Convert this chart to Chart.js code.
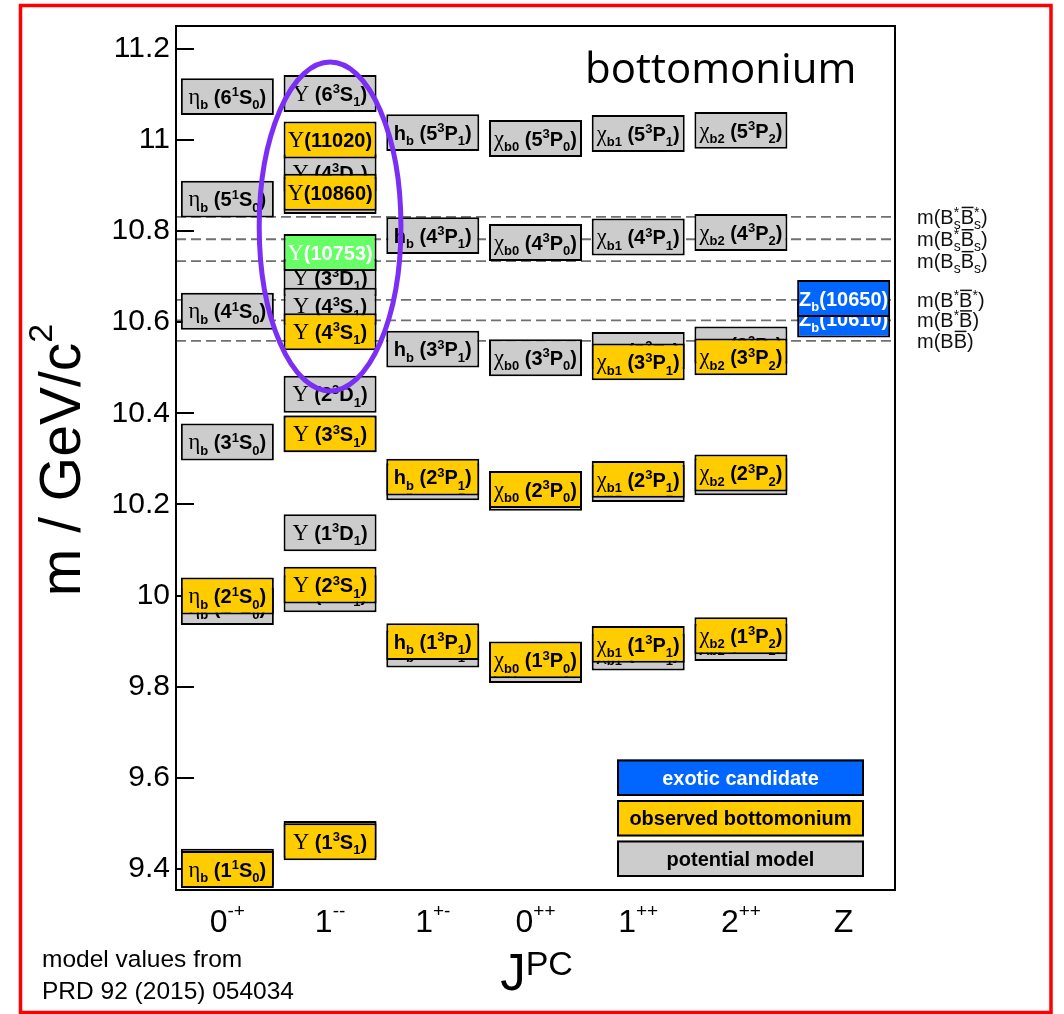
<!DOCTYPE html>
<html>
<head>
<meta charset="utf-8">
<title>Bottomonium spectrum</title>
<script src="https://cdn.jsdelivr.net/npm/chart.js@4/dist/chart.umd.min.js"></script>
<style>
  html, body { margin: 0; padding: 0; background: #ffffff; }
  #wrap { width: 1064px; height: 1014px; }
  canvas { display: block; }
</style>
</head>
<body>
<div id="wrap"><canvas id="spectrum" width="1064" height="1014"></canvas></div>
<script>
// ---------------------------------------------------------------------------
// Axes
// ---------------------------------------------------------------------------
const categories = ['0-+', '1--', '1+-', '0++', '1++', '2++', 'Z'];
const categoryLabels = ['0^{-+}', '1^{--}', '1^{+-}', '0^{++}', '1^{++}', '2^{++}', 'Z'];
const yTicks = [9.4, 9.6, 9.8, 10.0, 10.2, 10.4, 10.6, 10.8, 11.0, 11.2];
const yRange = [9.354, 11.25];

// ---------------------------------------------------------------------------
// Potential-model levels (GeV), PRD 92 (2015) 054034.
// Listed top-down inside each column so that lower levels are painted last.
// ---------------------------------------------------------------------------
const modelColumn = [
  '0-+', '0-+', '0-+', '0-+', '0-+', '0-+',
  '1--', '1--', '1--', '1--', '1--', '1--', '1--', '1--', '1--', '1--',
  '1+-', '1+-', '1+-', '1+-', '1+-',
  '0++', '0++', '0++', '0++', '0++',
  '1++', '1++', '1++', '1++', '1++',
  '2++', '2++', '2++', '2++', '2++'
];
const modelMass = [
  11.095, 10.870, 10.624, 10.337, 9.976, 9.404,
  11.102, 10.928, 10.878, 10.698, 10.635, 10.442, 10.355, 10.138, 10.004, 9.465,
  11.016, 10.790, 10.541, 10.250, 9.883,
  11.003, 10.775, 10.522, 10.227, 9.849,
  11.014, 10.787, 10.538, 10.246, 9.876,
  11.021, 10.797, 10.550, 10.261, 9.897
];
const modelName = [
  'η_b (6^1S_0)', 'η_b (5^1S_0)', 'η_b (4^1S_0)', 'η_b (3^1S_0)', 'η_b (2^1S_0)', 'η_b (1^1S_0)',
  'Υ (6^3S_1)', 'Υ (4^3D_1)', 'Υ (5^3S_1)', 'Υ (3^3D_1)', 'Υ (4^3S_1)',
  'Υ (2^3D_1)', 'Υ (3^3S_1)', 'Υ (1^3D_1)', 'Υ (2^3S_1)', 'Υ (1^3S_1)',
  'h_b (5^3P_1)', 'h_b (4^3P_1)', 'h_b (3^3P_1)', 'h_b (2^3P_1)', 'h_b (1^3P_1)',
  'χ_{b0} (5^3P_0)', 'χ_{b0} (4^3P_0)', 'χ_{b0} (3^3P_0)', 'χ_{b0} (2^3P_0)', 'χ_{b0} (1^3P_0)',
  'χ_{b1} (5^3P_1)', 'χ_{b1} (4^3P_1)', 'χ_{b1} (3^3P_1)', 'χ_{b1} (2^3P_1)', 'χ_{b1} (1^3P_1)',
  'χ_{b2} (5^3P_2)', 'χ_{b2} (4^3P_2)', 'χ_{b2} (3^3P_2)', 'χ_{b2} (2^3P_2)', 'χ_{b2} (1^3P_2)'
];

// ---------------------------------------------------------------------------
// Observed bottomonium (measured masses, GeV; the numbers inside the
// Υ(...) names are the conventional historical names)
// ---------------------------------------------------------------------------
const observedColumn = [
  '0-+', '0-+',
  '1--', '1--', '1--', '1--', '1--', '1--',
  '1+-', '1+-',
  '0++', '0++',
  '1++', '1++', '1++',
  '2++', '2++', '2++'
];
const observedMass = [
  9.999, 9.399,
  11.000, 10.885, 10.579, 10.355, 10.023, 9.460,
  10.260, 9.899,
  10.233, 9.859,
  10.513, 10.255, 9.893,
  10.524, 10.269, 9.912
];
const observedName = [
  'η_b (2^1S_0)', 'η_b (1^1S_0)',
  'Υ(11020)', 'Υ(10860)', 'Υ (4^3S_1)', 'Υ (3^3S_1)', 'Υ (2^3S_1)', 'Υ (1^3S_1)',
  'h_b (2^3P_1)', 'h_b (1^3P_1)',
  'χ_{b0} (2^3P_0)', 'χ_{b0} (1^3P_0)',
  'χ_{b1} (3^3P_1)', 'χ_{b1} (2^3P_1)', 'χ_{b1} (1^3P_1)',
  'χ_{b2} (3^3P_2)', 'χ_{b2} (2^3P_2)', 'χ_{b2} (1^3P_2)'
];

// Newly observed vector state
const newColumn = ['1--'];
const newMass = [10.753];
const newName = ['Υ(10753)'];

// Exotic candidates
const exoticColumn = ['Z', 'Z'];
const exoticMass = [10.607, 10.652];
const exoticName = ['Z_b(10610)', 'Z_b(10650)'];

// Open-bottom thresholds (GeV)
const thresholdMass = [10.831, 10.782, 10.734, 10.649, 10.604, 10.559];
const thresholdName = ['m(B_s^*~B_s^*)', 'm(B_s^*~B_s)', 'm(B_s~B_s)', 'm(B^*~B^*)', 'm(B^*~B)', 'm(B~B)'];

// Highlighted group of 1-- states: centre (column, GeV) and half extents
const highlight = { column: 1, mass: 10.810, halfColumns: 0.69, halfMass: 0.361 };

// Legend entries
const legendNames = ['exotic candidate', 'observed bottomonium', 'potential model'];

// ---------------------------------------------------------------------------
// Styling
// ---------------------------------------------------------------------------
const SANS = '"Liberation Sans", Arial, Helvetica, sans-serif';
const SERIF = '"Liberation Serif", "Times New Roman", serif';
const LEVEL_HALF = 0.0405;           // half height of a level box, GeV
const COLORS = {
  model: '#cccccc', observed: '#ffcc00', fresh: '#66ff66', exotic: '#0066ff',
  threshold: '#707070', highlight: '#7b2ff5', frame: '#ff0000'
};
const boxFont = { base: `700 20px ${SANS}`, greek: `400 22.5px ${SERIF}`, script: `700 13px ${SANS}`, rise: 7.5, drop: 5.5 };
const thrFont = { base: `400 20px ${SANS}`, greek: `400 20px ${SERIF}`, script: `400 14px ${SANS}`, rise: 7, drop: 5, over: 16.5, overWidth: 1.5 };
const xFont = { base: `400 32px ${SANS}`, greek: `400 32px ${SERIF}`, script: `400 19px ${SANS}`, rise: 15, drop: 0 };
const yTitleFont = { base: `400 57px ${SANS}`, greek: `400 57px ${SERIF}`, script: `400 34px ${SANS}`, rise: 28, drop: 0 };
const xTitleFont = { base: `400 51px ${SANS}`, greek: `400 51px ${SERIF}`, script: `400 34px ${SANS}`, rise: 15, drop: 0 };

// ---------------------------------------------------------------------------
// Small rich-text renderer: _x / _{..} subscript, ^x / ^{..} superscript,
// ~X overlined character; Greek letters use the serif face.
// ---------------------------------------------------------------------------
function parseRich(str) {
  const toks = [];
  const pushBase = (ch, over) => {
    const greek = /[\u0370-\u03ff]/.test(ch);
    const last = toks[toks.length - 1];
    if (!over && last && last.kind === 'base' && !last.over && last.greek === greek) last.text += ch;
    else toks.push({ text: ch, kind: 'base', over: !!over, greek });
  };
  let i = 0;
  while (i < str.length) {
    const c = str[i];
    if (c === '^' || c === '_') {
      const kind = c === '^' ? 'sup' : 'sub';
      let t;
      if (str[i + 1] === '{') { const j = str.indexOf('}', i + 2); t = str.slice(i + 2, j); i = j + 1; }
      else { t = str[i + 1]; i += 2; }
      toks.push({ text: t, kind, over: false, greek: false });
    } else if (c === '~') { pushBase(str[i + 1], true); i += 2; }
    else { pushBase(c, false); i += 1; }
  }
  return toks;
}

function drawRich(ctx, str, x, baseline, f, color, align) {
  const toks = parseRich(str);
  let adv = 0, prevScript = null;
  const items = [];
  for (const t of toks) {
    const font = t.kind === 'base' ? (t.greek ? f.greek : f.base) : f.script;
    ctx.font = font;
    const w = ctx.measureText(t.text).width;
    const dy = t.kind === 'sup' ? -f.rise : (t.kind === 'sub' ? f.drop : 0);
    let x0 = adv;
    if (t.kind !== 'base' && prevScript && prevScript.kind !== t.kind) {
      x0 = prevScript.x;
      adv = Math.max(adv, x0 + w);
      prevScript = null;
    } else {
      adv = x0 + w;
      prevScript = t.kind !== 'base' ? { kind: t.kind, x: x0 } : null;
    }
    items.push({ t, font, w, x0, dy });
  }
  const start = align === 'left' ? x : x - adv / 2;
  ctx.save();
  ctx.fillStyle = color;
  ctx.strokeStyle = color;
  ctx.textAlign = 'left';
  ctx.textBaseline = 'alphabetic';
  for (const it of items) {
    ctx.font = it.font;
    ctx.fillText(it.t.text, start + it.x0, baseline + it.dy);
    if (it.t.over) {
      ctx.lineWidth = f.overWidth || 1.5;
      ctx.beginPath();
      ctx.moveTo(start + it.x0 + 1, baseline - f.over);
      ctx.lineTo(start + it.x0 + it.w - 0.5, baseline - f.over);
      ctx.stroke();
    }
  }
  ctx.restore();
  return adv;
}

// ---------------------------------------------------------------------------
// Level controller: a floating bar per level, each followed by its label,
// so that overlapping levels also cover the labels underneath.
// ---------------------------------------------------------------------------
class LevelController extends Chart.BarController {
  draw() {
    const ctx = this.chart.ctx;
    const meta = this._cachedMeta;
    const ds = this.getDataset();
    meta.data.forEach((bar, i) => {
      if (bar.hidden) return;
      bar.draw(ctx);
      const p = bar.getProps(['x', 'y', 'base'], true);
      drawRich(ctx, ds.data[i].name, p.x, (p.y + p.base) / 2 + 7.2, boxFont, ds.labelColor, 'center');
    });
  }
}
LevelController.id = 'level';
LevelController.defaults = Chart.BarController.defaults;
LevelController.overrides = Chart.BarController.overrides;
Chart.register(LevelController);

function levels(cols, masses, names) {
  return masses.map((m, i) => ({ x: cols[i], y: [m - LEVEL_HALF, m + LEVEL_HALF], name: names[i] }));
}

function levelDataset(label, cols, masses, names, fill, textColor, order) {
  return {
    type: 'level',
    label,
    data: levels(cols, masses, names),
    backgroundColor: fill,
    borderColor: '#000000',
    borderWidth: 2,
    borderSkipped: false,
    inflateAmount: 0,
    grouped: false,
    barThickness: 93,
    labelColor: textColor,
    order
  };
}

// ---------------------------------------------------------------------------
// Decorations drawn through the chart's scales
// ---------------------------------------------------------------------------
const spectrumDecor = {
  id: 'spectrumDecor',
  beforeDatasetsDraw(chart) {
    const { ctx, chartArea: a, scales: { y } } = chart;
    ctx.save();
    // thresholds
    ctx.strokeStyle = COLORS.threshold;
    ctx.lineWidth = 1.8;
    ctx.setLineDash([10, 5]);
    thresholdMass.forEach(m => {
      const py = y.getPixelForValue(m);
      ctx.beginPath();
      ctx.moveTo(a.left, py);
      ctx.lineTo(a.right, py);
      ctx.stroke();
    });
    ctx.setLineDash([]);
    // inward ticks on the mass axis
    ctx.strokeStyle = '#000000';
    ctx.lineWidth = 2;
    yTicks.forEach(v => {
      const py = Math.round(y.getPixelForValue(v));
      ctx.beginPath();
      ctx.moveTo(a.left, py);
      ctx.lineTo(a.left + 18, py);
      ctx.stroke();
    });
    // frame
    ctx.strokeRect(a.left, a.top, a.right - a.left, a.bottom - a.top);
    ctx.restore();
  },
  afterDatasetsDraw(chart) {
    const { ctx, chartArea: a, scales: { x, y } } = chart;
    ctx.save();
    // highlight ellipse
    const cx = x.getPixelForValue(highlight.column);
    const colW = x.getPixelForValue(1) - x.getPixelForValue(0);
    const cy = y.getPixelForValue(highlight.mass);
    const ry = Math.abs(y.getPixelForValue(highlight.mass + highlight.halfMass) - cy);
    ctx.strokeStyle = COLORS.highlight;
    ctx.lineWidth = 5;
    ctx.beginPath();
    ctx.ellipse(cx, cy, highlight.halfColumns * colW, ry, 0, 0, Math.PI * 2);
    ctx.stroke();

    // legend
    const fills = [COLORS.exotic, COLORS.observed, COLORS.model];
    const inks = ['#ffffff', '#000000', '#000000'];
    const w = 247, h = 36.5, gap = 4;
    const right = a.right - 31, bottom = a.bottom - 13;
    const left = right - w;
    legendNames.forEach((name, i) => {
      const top = bottom - (legendNames.length - i) * h - (legendNames.length - 1 - i) * gap;
      ctx.fillStyle = fills[i];
      ctx.fillRect(left, top, w, h);
      ctx.strokeStyle = '#000000';
      ctx.lineWidth = 2;
      ctx.strokeRect(left + 1, top + 1, w - 2, h - 2);
      ctx.fillStyle = inks[i];
      ctx.font = `700 20px ${SANS}`;
      ctx.textAlign = 'center';
      ctx.textBaseline = 'alphabetic';
      ctx.fillText(name, left + w / 2, top + h / 2 + 7);
    });
    ctx.restore();
  },
  afterDraw(chart) {
    const { ctx, chartArea: a, scales: { x, y } } = chart;
    ctx.save();
    // threshold names
    thresholdMass.forEach((m, i) => {
      drawRich(ctx, thresholdName[i], a.right + 22, y.getPixelForValue(m) + 7, thrFont, '#111111', 'left');
    });
    // J^PC category labels
    categoryLabels.forEach((lab, i) => {
      drawRich(ctx, lab, x.getPixelForValue(i), a.bottom + 42, xFont, '#000000', 'center');
    });
    // axis titles
    drawRich(ctx, 'J^{PC}', (a.left + a.right) / 2 + 1, a.bottom + 100, xTitleFont, '#000000', 'center');
    ctx.save();
    ctx.translate(80, (a.top + a.bottom) / 2 + 2);
    ctx.rotate(-Math.PI / 2);
    drawRich(ctx, 'm / GeV/c^2', 0, 0, yTitleFont, '#000000', 'center');
    ctx.restore();
    // title
    ctx.fillStyle = '#000000';
    ctx.font = `400 42px "Open Sans", ${SANS}`;
    ctx.textAlign = 'left';
    ctx.textBaseline = 'alphabetic';
    ctx.fillText('bottomonium', 585, 83);
    // note
    ctx.font = `400 24.5px ${SANS}`;
    ctx.fillText('model values from', 42, 967);
    ctx.fillText('PRD 92 (2015) 054034', 42, 999);
    // outer frame
    ctx.strokeStyle = COLORS.frame;
    ctx.lineWidth = 3.5;
    ctx.strokeRect(20.5, 5.5, 1030.5, 1007);
    ctx.restore();
  }
};

// ---------------------------------------------------------------------------
// Chart
// ---------------------------------------------------------------------------
new Chart(document.getElementById('spectrum'), {
  type: 'bar',
  data: {
    labels: categories,
    datasets: [
      levelDataset('potential model', modelColumn, modelMass, modelName, COLORS.model, '#000000', 4),
      levelDataset('observed bottomonium', observedColumn, observedMass, observedName, COLORS.observed, '#000000', 3),
      levelDataset('new vector state', newColumn, newMass, newName, COLORS.fresh, '#ffffff', 2),
      levelDataset('exotic candidate', exoticColumn, exoticMass, exoticName, COLORS.exotic, '#ffffff', 1)
    ]
  },
  options: {
    responsive: false,
    animation: false,
    layout: { padding: { left: 0, right: 169, top: 26, bottom: 0 } },
    plugins: { legend: { display: false }, tooltip: { enabled: false } },
    scales: {
      x: {
        type: 'category',
        offset: true,
        grid: { display: false, drawTicks: false },
        border: { display: false },
        ticks: { display: false },
        afterFit(scale) { scale.height = 124; }
      },
      y: {
        type: 'linear',
        min: yRange[0],
        max: yRange[1],
        grid: { display: false, drawTicks: false },
        border: { display: false },
        afterBuildTicks(scale) { scale.ticks = yTicks.map(v => ({ value: v })); },
        afterFit(scale) { scale.width = 176; },
        ticks: {
          padding: 6,
          color: '#000000',
          font: { family: SANS, size: 30 },
          callback: v => String(Number(v.toFixed(1)))
        }
      }
    }
  },
  plugins: [spectrumDecor]
});
</script>
</body>
</html>
